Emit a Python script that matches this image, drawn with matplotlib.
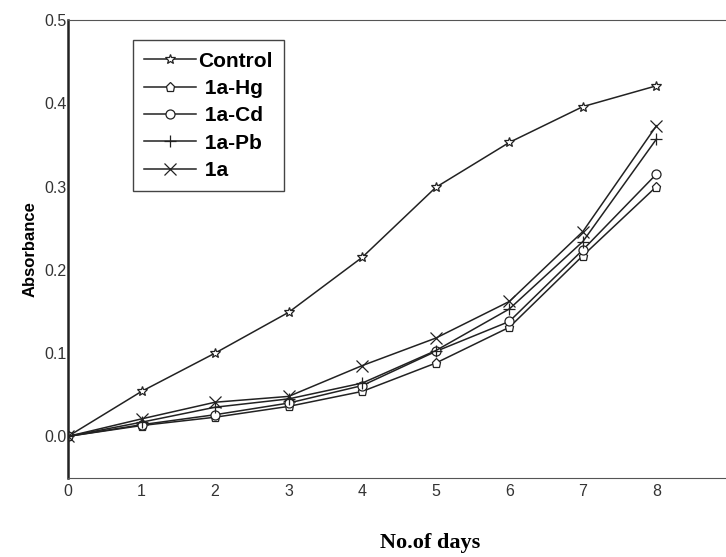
import numpy as np
import matplotlib
matplotlib.use("Agg")
from matplotlib import pyplot as plt

plt.rcParams['font.family'] = ['Liberation Sans', 'DejaVu Sans']

# data
days = [0, 1, 2, 3, 4, 5, 6, 7, 8]
control = [0.0, 0.054, 0.100, 0.149, 0.215, 0.299, 0.353, 0.396, 0.421]
hg = [0.0, 0.013, 0.023, 0.036, 0.054, 0.088, 0.131, 0.217, 0.300]
cd = [0.0, 0.014, 0.026, 0.040, 0.061, 0.102, 0.138, 0.224, 0.315]
pb = [0.0, 0.017, 0.035, 0.045, 0.064, 0.103, 0.153, 0.234, 0.357]
one_a = [0.0, 0.021, 0.041, 0.048, 0.085, 0.118, 0.162, 0.246, 0.373]

labels = ["Control", " 1a-Hg", " 1a-Cd", " 1a-Pb", " 1a"]
markers = ["*", "p", "o", "+", "x"]
sizes = [7, 6.5, 6.5, 8, 9]

fig = plt.figure(figsize=(7.26, 5.57), dpi=100)
ax = fig.add_axes([68/726, 79/557, 662/726, 458/557])

for ys, lab, m, s in zip([control, hg, cd, pb, one_a], labels, markers, sizes):
    ax.plot(days, ys, color='#222222', linewidth=1.1, marker=m, markersize=s,
            markerfacecolor='white', markeredgecolor='#222222',
            markeredgewidth=0.9, label=lab)

ax.set_xlim(0, 9)
ax.set_ylim(-0.05, 0.5)
ax.set_xticks(range(10))
ax.set_yticks([0.0, 0.1, 0.2, 0.3, 0.4, 0.5])
ax.set_yticklabels(["0.0", "0.1", "0.2", "0.3", "0.4", "0.5"])
ax.tick_params(length=0, labelsize=11.5, colors='#333333', pad=1)
ax.tick_params(axis='x', pad=4)

ax.spines['right'].set_visible(False)
ax.spines['left'].set_linewidth(1.8)
ax.spines['left'].set_color('#222222')
ax.spines['top'].set_color('#555555')
ax.spines['bottom'].set_color('#555555')

ax.set_ylabel("Absorbance", fontsize=12, fontweight='bold', labelpad=5)
fig.text(430/726, 1 - 543/557, "No.of days", fontsize=16, fontweight='bold',
         family='Liberation Serif', ha='center', va='center')

leg = ax.legend(loc='upper left', bbox_to_anchor=(0.098, 0.956),
                prop={'size': 15, 'weight': 'bold'}, frameon=True,
                fancybox=False, edgecolor='#444444', framealpha=1,
                handlelength=2.5, handletextpad=0.1, labelspacing=0.4,
                borderpad=0.55, borderaxespad=0)
leg.get_frame().set_linewidth(1.0)

fig.savefig("out.png", dpi=100)
